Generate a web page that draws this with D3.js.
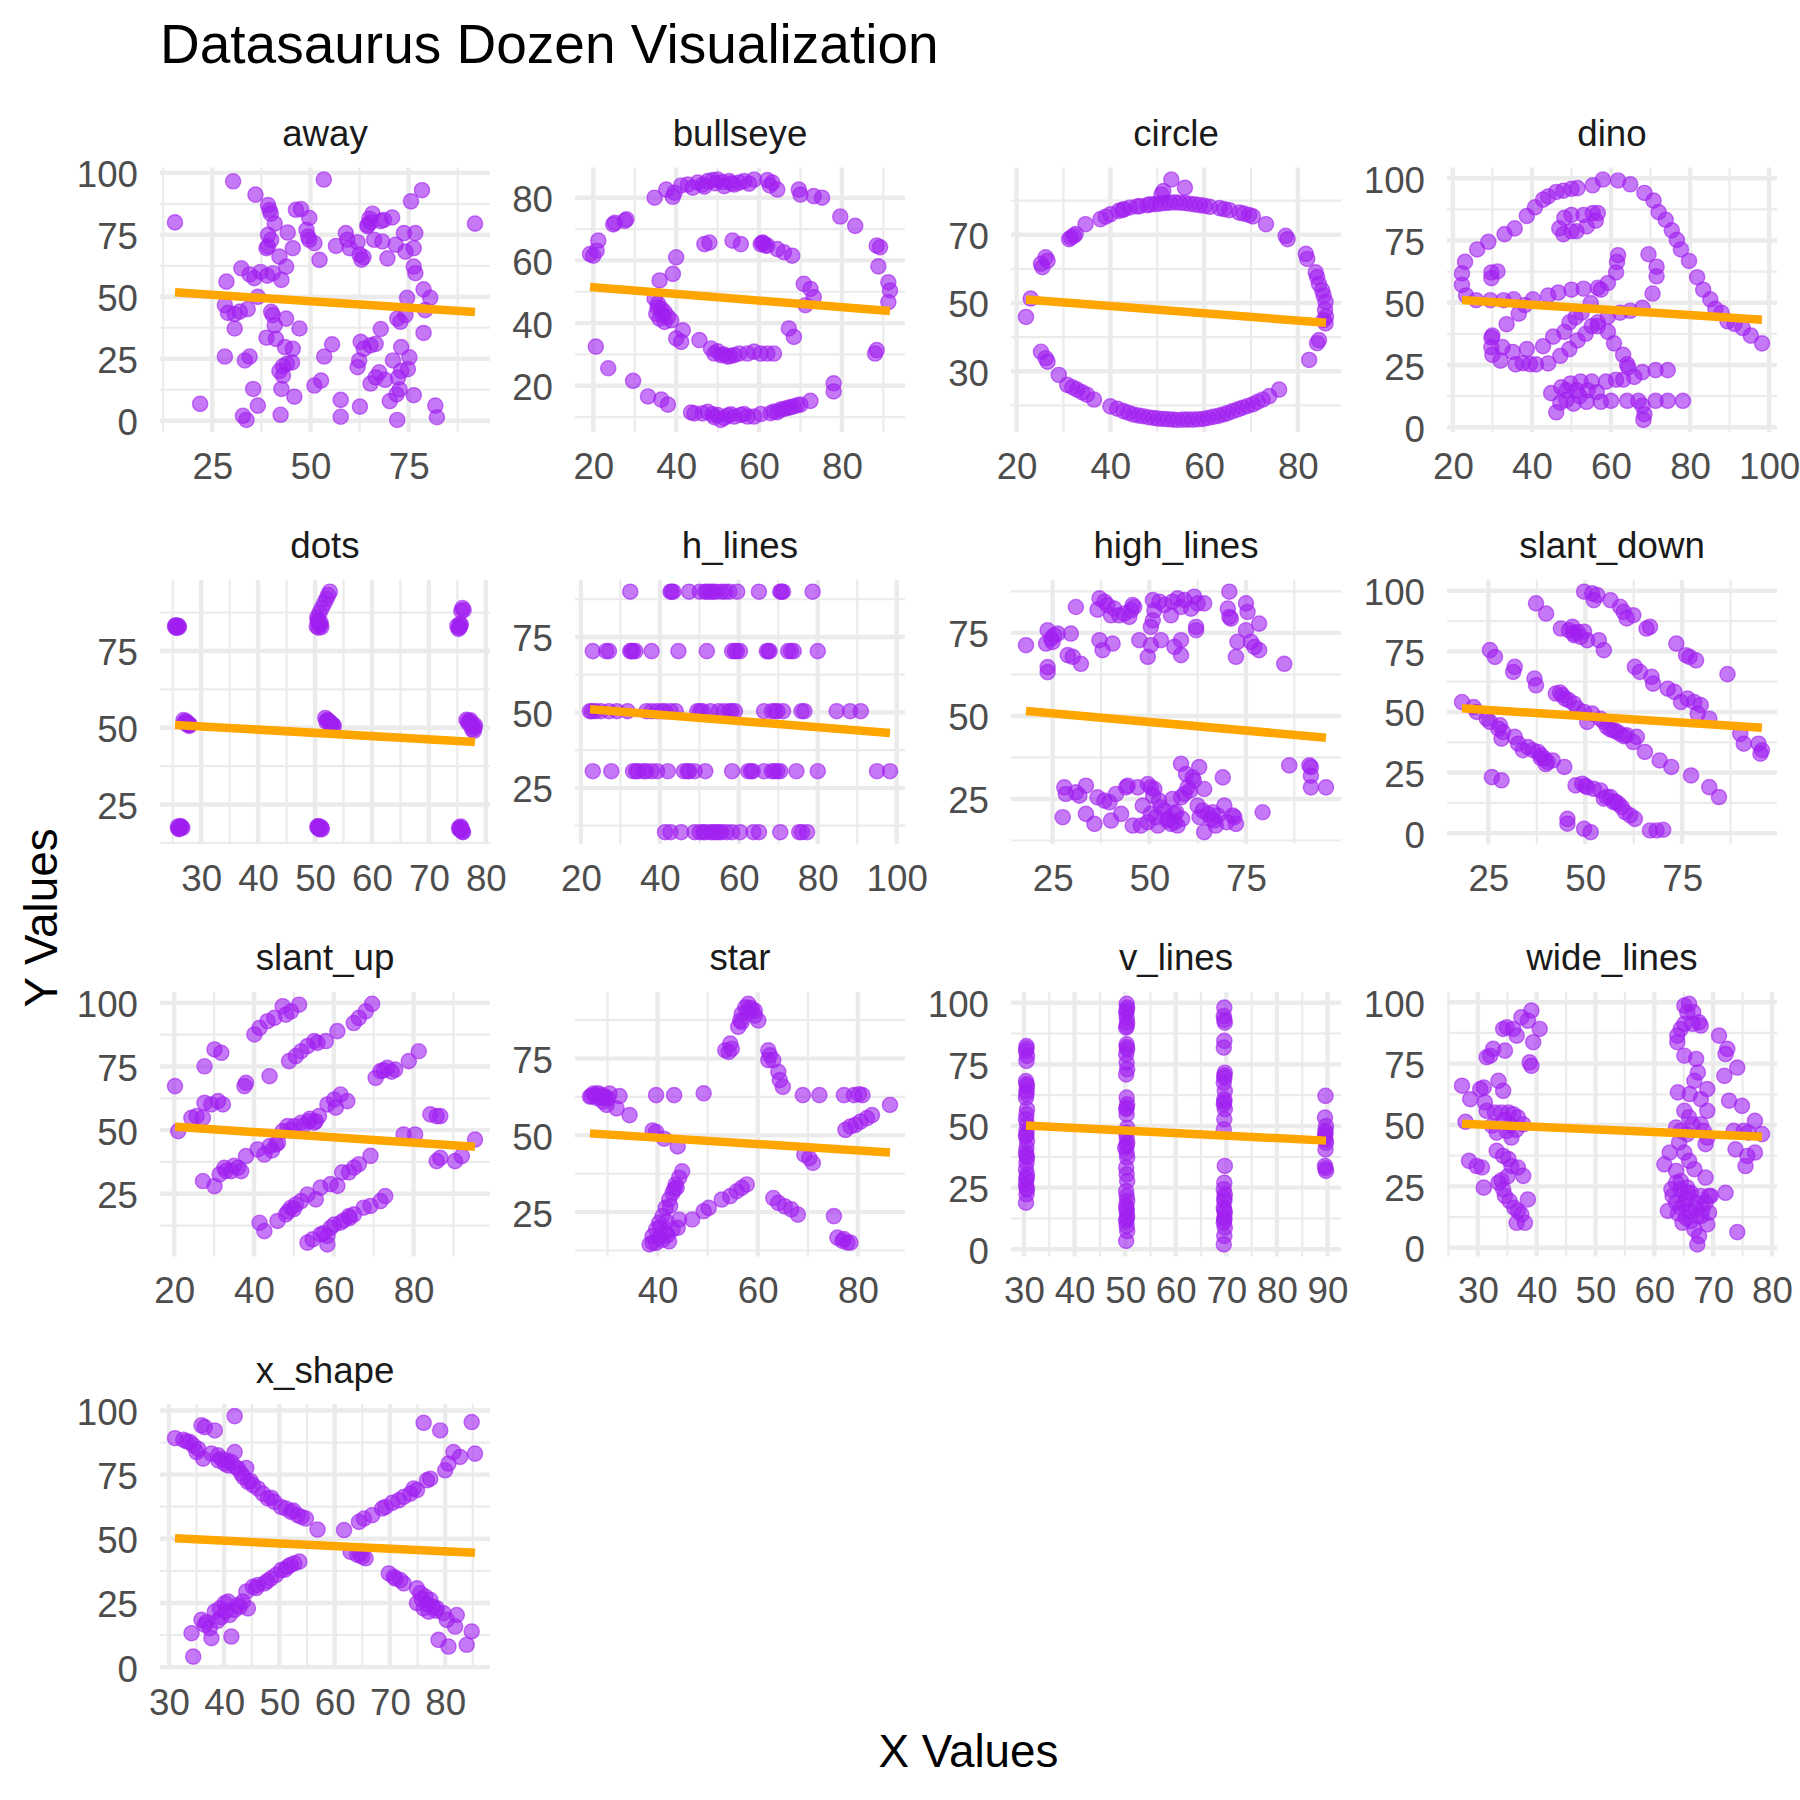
<!DOCTYPE html>
<html><head><meta charset="utf-8">
<script src="https://cdn.jsdelivr.net/npm/d3@7"></script>
<style>body{margin:0;background:#fff}svg{display:block}</style>
</head><body>
<svg id="chart" width="1800" height="1800"></svg>
<script>
// ---------------- DATA ----------------
const panelNames = ["away","bullseye","circle","dino","dots","h_lines","high_lines","slant_down","slant_up","star","v_lines","wide_lines","x_shape"];

const awayPoints = [[15.5,80.0],[30.3,96.6],[53.4,97.3],[78.4,93.0],[75.6,88.5],[91.9,79.5],[36.0,91.2],[39.2,87.0],[39.6,85.0],[39.9,83.5],[46.3,85.1],[47.6,85.4],[49.7,81.8],[40.9,79.5],[44.2,75.9],[39.2,75.0],[40.0,73.0],[39.2,70.3],[38.8,69.6],[45.5,69.6],[49.0,77.0],[49.4,74.3],[49.7,73.0],[51.0,71.6],[52.3,64.9],[42.1,66.2],[43.8,62.2],[42.6,56.8],[32.4,61.5],[34.5,59.0],[35.7,57.5],[37.3,60.0],[39.0,58.5],[40.4,59.5],[28.6,56.1],[36.6,50.0],[28.2,46.6],[29.0,43.5],[30.7,43.0],[32.0,44.0],[34.0,45.0],[30.7,37.2],[40.0,43.9],[40.4,42.6],[43.8,41.2],[40.9,38.5],[47.2,37.2],[38.8,33.5],[41.2,33.0],[43.5,29.7],[45.5,29.0],[28.2,25.9],[33.3,24.3],[34.5,25.9],[53.5,25.9],[55.5,30.8],[44.0,23.0],[45.3,23.5],[43.0,22.0],[42.1,20.0],[43.0,18.2],[42.6,12.8],[45.9,9.7],[35.4,12.8],[36.6,6.1],[21.9,6.8],[32.8,2.0],[33.7,0.3],[42.4,2.4],[51.0,14.2],[52.7,16.2],[57.7,8.4],[57.7,1.6],[62.6,5.7],[56.5,70.5],[59.0,75.7],[59.4,73.0],[60.0,69.6],[62.0,72.0],[62.5,67.0],[63.0,65.0],[63.5,66.0],[64.5,78.5],[65.0,81.5],[65.8,83.5],[65.3,80.0],[64.6,79.0],[67.9,80.5],[68.7,81.0],[70.8,82.0],[66.2,73.0],[68.3,72.3],[69.6,65.5],[71.7,71.0],[73.8,75.7],[76.7,75.7],[74.2,68.2],[76.3,69.6],[76.3,62.2],[76.7,59.5],[78.8,53.0],[80.5,49.6],[74.6,49.6],[79.2,44.6],[74.2,42.6],[72.9,39.9],[72.1,41.2],[78.8,35.4],[67.9,37.0],[66.6,31.0],[65.3,30.4],[62.8,31.8],[63.6,29.0],[62.4,24.3],[62.0,21.6],[67.5,19.5],[66.6,17.5],[65.3,15.0],[69.0,16.5],[71.0,24.3],[73.1,29.7],[75.2,25.6],[74.8,20.8],[73.1,20.1],[72.3,17.4],[72.7,12.6],[71.9,10.6],[70.2,7.9],[76.3,10.3],[81.8,6.1],[82.2,1.4],[72.1,0.3]];

const bullseyePoints = [[34.8,80],[37.6,82.6],[39.6,81.6],[39.2,80.3],[41.2,83.9],[42.8,84.2],[44,83.2],[45.2,84.8],[46.4,84.2],[47.6,85.3],[48.8,85.6],[50,85.8],[51.2,85],[51.6,83.7],[52.8,85.3],[54,84.2],[55.2,84.8],[56.4,85.3],[58.8,85.8],[62,85.6],[63.2,84.8],[64.4,82.6],[69.6,82.6],[70,81],[73.2,80.5],[75.2,80],[79.6,74],[83.2,71],[88.4,64.7],[89.2,64.2],[88.8,58.1],[91.2,53],[91.6,50.4],[91.2,46.7],[88.4,31.4],[88,30.3],[78,20.8],[78,18.2],[72.4,15.2],[70,14],[68.4,13.4],[66.8,12.9],[65.2,12.4],[64.4,11.6],[62.8,11.3],[60.4,11],[58.8,10.2],[57.2,10.2],[55.6,10.7],[54,10.2],[52.4,10.5],[50.8,9.1],[50,10.7],[48.8,10.9],[47.6,11.7],[46.4,11.2],[44.4,11.2],[43.6,11.5],[38,14],[36.4,15.6],[33.2,16.6],[29.6,21.6],[23.6,25.6],[20.6,32.5],[19.2,62],[20,61.5],[20.8,63.1],[21.2,66.3],[24.8,71.5],[25.2,72],[28,73.1],[27.6,72.6],[49.4,84.6],[53.4,84.6],[46.8,83.5],[57.6,84.5],[62.6,83.9],[49.2,10],[51.6,9.8],[53.2,10.9],[56.4,11],[63.6,11.8],[66,12.6],[67.6,13.2],[69.2,13.8],[40,61],[39.2,55.7],[36,53.6],[34.8,47.8],[35.6,46.2],[36.4,44.6],[37.2,43.5],[35.2,43],[36,41.4],[37.2,40.4],[38,42],[38.8,40.9],[40,35.1],[41.2,34],[41.6,37.7],[45.6,34.6],[48.4,31.9],[49.2,30.3],[50.8,29.8],[52.4,29.3],[54,29.8],[55.2,30.3],[57.2,30.3],[58.8,30.9],[60.4,30.3],[62,30.3],[63.6,30.3],[67.2,38.3],[68.4,35.6],[70.8,52.5],[72.4,50.9],[73.2,48.3],[71.2,45.7],[68,61.5],[66,62.6],[64.4,63.6],[62,64.7],[60.8,65.7],[60.4,65.2],[55.6,65.2],[53.6,66.3],[48,65.7],[46.8,65.2],[35.5,45],[36.8,42.5],[53,29.5],[51.5,30],[50,31],[61,65.5],[61.5,64.8]];

const circlePoints = [[53,86.2],[55.9,83.8],[51.3,82.8],[50.9,81.8],[37.9,74.6],[40,76],[41.8,77],[44.2,78],[46.3,78.4],[48.5,78.9],[50.6,79.1],[52.7,79.4],[54.8,79.4],[56.9,79.1],[59.1,78.7],[61.2,78.2],[63.3,77.8],[65.4,77.2],[67.5,76.5],[69.6,75.8],[73.2,73.1],[43,77.5],[45.7,78.3],[47.9,78.7],[49.6,79],[51.7,79.3],[53.8,79.5],[55.9,79.3],[58,78.9],[60.1,78.5],[64.3,77.5],[68.5,76.2],[70.4,75.4],[39,75.3],[42.6,77.3],[34.7,73.1],[32.2,69.7],[31.2,68.7],[31.6,69.2],[32.6,70.2],[26.2,63.4],[25.2,61.5],[25.5,60.5],[26.6,62.4],[23,51.3],[22,45.9],[25.2,35.7],[26.2,33.8],[26.6,32.8],[29,28.9],[30.8,26],[32.9,24.6],[35,23.1],[36.5,21.7],[34,23.8],[31.9,25.3],[40,19.7],[42.8,18.3],[44.9,17.3],[47,16.8],[49.2,16.3],[51.3,16],[53.4,15.8],[55.5,15.8],[57.6,15.8],[59.8,16],[61.9,16.6],[64,17.3],[66.1,18.3],[68.2,19.3],[70.4,20.3],[72.5,21.7],[73.9,22.7],[76,24.6],[41.5,19],[43.9,17.8],[46,17],[48.1,16.5],[50.2,16.1],[52.3,15.9],[54.4,15.7],[56.5,15.8],[58.7,15.9],[60.8,16.3],[63,16.9],[65,17.7],[67.2,18.8],[69.3,19.8],[71.4,21],[82.4,33.3],[84.5,39.1],[84.1,38.2],[85.5,45],[85.9,44],[85.9,50.3],[85.5,52.2],[85.2,53.7],[84.5,55.6],[84.1,57.6],[83.8,59],[82,62.9],[81.7,64.4],[77.8,68.7],[77.4,69.7],[86,46],[85.8,48]];

const dinoX = [55.3846,51.5385,46.1538,42.8205,40.7692,38.7179,35.641,33.0769,28.9744,26.1538,23.0769,22.3077,22.3077,23.3333,25.8974,29.4872,32.8205,35.3846,40.2564,44.1026,46.6667,50,53.0769,56.6667,59.2308,61.2821,61.5385,61.7949,57.4359,54.8718,52.5641,48.2051,49.4872,51.0256,45.3846,42.8205,38.7179,35.1282,32.5641,30,33.5897,36.6667,38.2051,29.7436,29.7436,30,32.0513,35.8974,41.0256,44.1026,47.1795,49.4872,51.5385,53.5897,55.1282,56.6667,59.2308,62.3077,64.8718,67.9487,70.5128,71.5385,71.5385,69.4872,46.9231,48.2051,50,53.0769,55.3846,56.6667,56.1538,53.8462,51.2821,50,47.9487,29.7436,29.7436,31.2821,57.9487,61.7949,64.8718,68.4615,70.7692,72.0513,73.8462,75.3846,76.6667,77.6923,79.7436,81.7949,83.3333,85.1282,86.4103,87.9487,89.4872,93.3333,95.3846,98.2051,56.6667,59.2308,60.7692,63.0769,64.1026,64.359,74.359,71.2821,67.9487,65.8974,63.0769,61.2821,58.7179,55.1282,52.3077,49.7436,47.4359,44.8718,48.7179,51.2821,54.1026,56.4103,52.0513,48.7179,47.1795,46.1538,50.5128,53.8462,57.4359,60,64.1026,66.9231,71.2821,74.359,78.2051,67.9487,68.4615,68.2051,37.6923,39.4872,91.2821,50,47.9487,44.1026];
const dinoY = [97.1795,96.0256,94.4872,91.4103,88.3333,84.8718,79.8718,77.5641,74.4872,71.4103,66.4103,61.7949,57.1795,52.9487,51.0256,51.0256,51.0256,51.4103,51.4103,52.9487,54.1026,55.2564,55.641,56.0256,57.9487,62.1795,66.4103,69.1026,55.2564,49.8718,46.0256,38.3333,42.1795,44.1026,36.4103,32.5641,31.4103,30.2564,32.1795,36.7949,41.4103,45.641,49.1026,36.0256,32.1795,29.1026,26.7949,25.2564,25.2564,25.641,28.718,31.4103,34.8718,37.5641,40.641,42.1795,44.4872,46.0256,46.7949,47.9487,53.718,60.641,64.4872,69.4872,79.8718,84.1026,85.2564,85.2564,86.0256,86.0256,82.9487,80.641,78.718,78.718,77.5641,59.8718,62.1795,62.5641,99.4872,99.1026,97.5641,94.1026,91.0256,86.4103,83.3333,79.1026,75.2564,71.4103,66.7949,60.2564,55.2564,51.4103,47.5641,46.0256,42.5641,39.8718,36.7949,33.718,40.641,38.3333,33.718,29.1026,25.2564,24.1026,22.9487,22.9487,22.1795,20.2564,19.1026,19.1026,18.3333,18.3333,18.3333,17.5641,16.0256,13.718,14.8718,14.8718,14.8718,14.1026,12.5641,11.0256,9.8718,6.0256,9.4872,10.2564,10.2564,10.641,10.641,10.641,10.641,10.641,10.641,8.718,5.2564,2.9487,25.7692,25.3846,41.5385,95.7692,95,92.6923];

const dotsPoints = [[25.4,83.0],[25.6,82.5],[25.9,83.2],[26.1,82.8],[25.5,83.4],[25.8,82.6],[26.0,83.1],[25.7,82.9],[26.9,52.5],[27.2,51.8],[27.5,51.2],[27.8,50.9],[27.3,52.2],[27.7,51.5],[28.0,51.0],[27.1,51.6],[27.9,50.6],[25.9,17.8],[26.2,17.3],[26.5,17.6],[26.1,17.0],[26.4,18.0],[26.7,17.4],[26.0,17.2],[26.3,17.7],[50.3,83.0],[50.6,82.6],[50.9,83.4],[51.1,82.8],[50.5,84.5],[50.4,86.0],[50.8,87.5],[51.2,89.0],[51.6,90.5],[52.0,92.0],[52.3,93.2],[52.6,94.3],[50.7,83.8],[51.0,84.2],[50.5,85.2],[51.8,53.2],[52.1,52.6],[52.5,52.0],[52.8,51.5],[53.1,51.0],[53.3,50.6],[52.3,52.3],[52.7,51.2],[52.0,51.9],[53.0,50.9],[50.4,17.8],[50.7,17.3],[51.0,17.6],[51.2,17.0],[50.6,18.0],[51.1,17.5],[50.8,16.9],[50.5,17.4],[75.0,83.2],[75.3,82.6],[75.6,83.4],[75.2,82.2],[75.5,83.8],[75.4,82.9],[75.7,88.0],[75.9,89.0],[76.1,88.3],[76.6,52.6],[76.9,52.2],[77.2,51.8],[77.5,51.3],[77.8,50.6],[78.0,50.0],[77.6,49.5],[77.9,49.0],[77.0,51.4],[77.3,52.4],[78.1,50.8],[75.3,17.5],[75.5,17.0],[75.8,16.6],[75.6,17.8],[75.9,16.2],[75.4,16.8],[75.7,17.3],[76.0,16.0]];

const hLinesPoints = [[32.5,90],[42.7,90],[43.4,90],[47.4,90],[50.1,90],[51.5,90],[52.8,90],[54.2,90],[55.6,90],[57.6,90],[59.6,90],[65.1,90],[70.5,90],[71.2,90],[78.7,90],[43.0,90],[52.0,90],[53.5,90],[56.5,90],[70.8,90],[23,70.3],[26.4,70.3],[27.1,70.3],[32.5,70.3],[33.2,70.3],[33.8,70.3],[37.9,70.3],[44.7,70.3],[51.9,70.3],[58.3,70.3],[59,70.3],[60.3,70.3],[67.1,70.3],[67.8,70.3],[72.5,70.3],[73.9,70.3],[80,70.3],[32.8,70.3],[59.5,70.3],[67.5,70.3],[73.2,70.3],[22.3,50.4],[23.7,50.4],[25,50.4],[27.1,50.4],[29.1,50.4],[31.8,50.4],[36.6,50.4],[37.9,50.4],[39.3,50.4],[41.3,50.4],[42.7,50.4],[44,50.4],[49.5,50.4],[50.8,50.4],[52.8,50.4],[54.9,50.4],[56.3,50.4],[57.6,50.4],[59,50.4],[66.4,50.4],[68.4,50.4],[69.8,50.4],[71.2,50.4],[75.9,50.4],[76.6,50.4],[84.8,50.4],[88.2,50.4],[90.9,50.4],[22.8,50.4],[40.5,50.4],[50.2,50.4],[58.2,50.4],[69.2,50.4],[23,30.5],[27.7,30.5],[33.2,30.5],[34.5,30.5],[35.9,30.5],[37.9,30.5],[39.3,30.5],[42,30.5],[46.1,30.5],[47.4,30.5],[48.8,30.5],[51.5,30.5],[58.3,30.5],[62.4,30.5],[63.1,30.5],[66.4,30.5],[68.4,30.5],[69.8,30.5],[70.5,30.5],[74.6,30.5],[80,30.5],[95,30.5],[98.3,30.5],[34,30.5],[36.5,30.5],[47,30.5],[63.5,30.5],[69,30.5],[41.3,10.3],[42.7,10.3],[45.4,10.3],[48.8,10.3],[50.1,10.3],[51.5,10.3],[52.8,10.3],[54.2,10.3],[55.6,10.3],[56.9,10.3],[58.3,10.3],[60.3,10.3],[63.7,10.3],[65.1,10.3],[70.5,10.3],[75.3,10.3],[77.3,10.3],[51,10.3],[53.5,10.3],[55,10.3],[76,10.3]];

const highLinesPoints = [[18.1,71.3],[23.7,75.8],[23.3,71.8],[24.6,73.3],[25.4,74.3],[26.3,74.8],[25,72.3],[23.7,64.7],[23.7,63.2],[29.7,74.8],[28.9,68.3],[30.2,67.8],[32.3,65.7],[31,82.8],[37.1,85.4],[36.6,82],[38.4,84.4],[39.2,83.4],[40.9,82.3],[40.1,80.3],[42.2,80.3],[43.5,80.8],[45.3,81.8],[45.7,83.4],[46.1,82.8],[44.8,79.8],[37.1,72.8],[37.9,69.8],[40.5,71.8],[47.4,72.8],[49.6,67.8],[50.4,71.3],[53,72.8],[50.4,76.8],[50.9,78.8],[51.3,81.8],[50.9,84.9],[52.6,84.4],[53.9,83.4],[55.6,80.3],[56,84.4],[57.3,85.4],[58.2,82.8],[59.1,84.9],[60.8,82.3],[61.6,85.9],[62.5,83.9],[64.2,83.9],[62.1,76.8],[62.1,75.8],[56.5,70.8],[58.2,72.8],[58.2,68.3],[70.7,87.4],[70.3,82.3],[70.7,79.8],[71.1,79.3],[75,83.9],[75.4,81.3],[78.4,77.8],[75,75.8],[72.8,72.3],[76.3,72.3],[77.2,70.8],[78.4,69.8],[72.4,67.8],[84.9,65.7],[27.6,19.5],[28,28.5],[28.4,26.5],[31,27],[31.9,26],[33.6,29],[33.6,20.5],[35.8,17.5],[36.6,25.5],[38.4,24.5],[39.7,24],[40.1,18.5],[42.7,20.5],[41.4,26.5],[44,28.5],[44.4,29],[45.7,17],[47,28.5],[47.8,17],[49.6,29.5],[50.4,28.5],[51.3,28],[48.3,23],[49.6,18],[50.4,20.5],[51.7,19.5],[52.2,17],[53.9,21.5],[54.7,18.5],[55.6,17.5],[56,25],[56.5,20.5],[57.3,17],[58.2,25.5],[59.1,26.5],[59.9,28.5],[58.2,35.6],[59.5,32.5],[61.2,31.5],[62.9,34.6],[64.2,28],[62.5,23],[63.8,21.5],[65.1,20.5],[66.4,21],[66.8,18.5],[67.2,17],[67.7,20],[69,31.5],[69.4,23],[71.6,20],[72.4,17.5],[72,19.5],[64.2,15],[79.3,21],[86.2,35.1],[91.4,35.1],[91.8,34.6],[91.8,32],[91.8,28.5],[95.7,28.5],[51,26],[52.5,24.5],[53,22.5],[55,19],[57,21],[60.5,27.5],[61.5,30.5],[56.5,18],[58.5,19],[63,19.5],[66,19],[70,18]];

const slantDownPoints = [[18.2,54.1],[21.2,52],[22,50],[24.6,47.2],[25.4,45.9],[28,44.5],[28.8,41.7],[28.4,39],[27.6,43.1],[31.8,39.7],[32.7,36.9],[33.9,34.2],[35.2,35.5],[36.5,34.2],[37.8,33.5],[38.6,32.1],[39.5,30.7],[40.3,29.3],[41.6,30],[44.6,27.3],[25.4,75.5],[26.7,72.7],[31.8,68.6],[31.4,66.5],[36.9,63.8],[37.3,61],[42.4,57.6],[44.1,56.9],[45.8,54.8],[47.1,53.4],[48,51.4],[49.7,50],[50.5,45.9],[51.8,49.3],[53.9,47.2],[54.8,45.9],[55.6,43.8],[57.3,42.4],[59,41],[60.7,40.4],[62.4,37.6],[63.3,39.7],[65.4,33.5],[69.2,30],[72.2,27.3],[77.3,23.8],[82,19],[84.5,14.9],[37.3,94.8],[39.9,90.6],[43.7,84.4],[45.8,83.7],[46.7,85.1],[47.1,81.7],[48.8,81],[49.7,83.1],[50.5,79.6],[53.5,79.6],[54.8,75.5],[49.7,99.6],[51.8,98.9],[53.1,98.2],[52.2,96.1],[56.5,96.1],[59,93.4],[59.9,91.3],[62.4,89.9],[60.7,88.6],[66.7,85.1],[65.8,84.4],[73.5,78.2],[76,73.4],[78.6,71.3],[76.9,72.7],[86.7,65.6],[62.8,68.6],[64.1,66.5],[67.1,64.5],[67.5,61.7],[71.3,59.6],[73,58.3],[74.7,54.1],[76.4,55.5],[78.1,54.1],[79.8,52.8],[79,49.3],[82,47.2],[90,41],[90.9,36.9],[94.7,36.9],[95.6,34.2],[95.2,32.8],[25.9,23.1],[28.4,21.8],[47.5,19.7],[49.2,20.4],[50.5,19],[52.2,18.3],[53.9,17.6],[54.8,14.2],[56.5,14.9],[57.3,12.8],[58.6,12.1],[59.4,10.7],[60.3,8.7],[61.6,7.3],[62.8,5.9],[45.4,5.9],[45.4,3.9],[49.7,1.8],[51.4,0.4],[66.7,1.1],[68.4,1.1],[70.1,1.4],[43.5,58],[44.8,55.5],[56.5,42.8],[58,42],[60,40],[38.5,31],[39.8,28.5],[47,82.5],[48,83],[50,19.5],[55.5,15],[57.8,13]];

const slantUpPoints = [[20.2,67.3],[21,49.6],[24.3,54.8],[25.6,55.5],[27.2,54.8],[27.6,75.1],[30.1,81.7],[31.8,80.4],[27.6,60.7],[29.3,60.1],[31,61.4],[32.2,60.1],[37.6,67.3],[38,68.6],[27.2,30],[30.1,28],[31.4,32.6],[32.6,35.2],[34.3,33.9],[36,35.2],[36.8,33.9],[38,39.8],[40.9,42.4],[42.6,40.4],[43.9,43.7],[45.5,44.4],[47.2,49.6],[48.4,51.6],[50.1,51.6],[51.8,52.9],[53.8,53.5],[55.5,53.5],[56.3,55.5],[55.1,52.9],[58.4,60.1],[60.1,62],[61.7,64],[63.4,61.4],[60.5,58.8],[43.9,71.2],[40.1,87.6],[41.4,90.2],[43.4,92.8],[45.1,94.1],[47.2,98.7],[49.3,96.7],[51.3,99.3],[48,95.4],[48.8,77.1],[50.5,79.1],[51.8,81],[53.4,83],[55.1,85],[55.9,84.3],[58,85],[60.9,88.9],[65,92.1],[66.3,94.1],[68,96.7],[69.6,99.6],[70.5,70.5],[71.7,73.2],[73.4,74.5],[75.4,73.8],[78.8,77.1],[81.3,81],[84.2,56.2],[85.8,55.5],[86.7,55.5],[77.5,48.3],[80.4,48.3],[85.8,37.8],[86.7,39.1],[90.4,37.8],[92.1,39.8],[95.4,46.3],[41.4,13.6],[42.6,10.3],[45.9,14.3],[48,16.9],[49.3,19.5],[50.5,20.8],[51.8,22.1],[53.4,24.7],[55.5,22.8],[56.7,27.4],[59.2,28.8],[60.9,28.1],[62.1,33.4],[63.8,33.4],[65.1,35.3],[66.3,36.6],[69.2,39.9],[53.4,5.8],[54.7,7.1],[56.7,9],[58.4,8.4],[59.2,11.6],[60.1,12.9],[61.7,13.6],[63.8,16.2],[65.1,16.9],[67.5,19.5],[69.2,20.2],[71.7,22.1],[72.9,24.1],[58.4,5.1],[33,34],[35,36],[44.5,42],[46,45],[49,50],[52.5,52],[54,54.5],[57.5,9.5],[62.5,14.5],[64,15.5],[48.5,18],[50,19],[72.5,73.5],[74.5,73]];

const starPoints = [[26.8,62.8],[27.5,63.1],[28.1,63.7],[28.8,63.1],[29.5,62.6],[30.1,62],[29.1,61],[29.8,59.9],[31.8,58.8],[32.4,62.8],[34.4,56.6],[26.5,62.6],[27.2,63.6],[28.5,62.6],[30.4,63.6],[39.7,63.1],[43.3,63.1],[49.2,63.7],[39,51.6],[39.7,51.1],[41.3,48.9],[44,46.4],[44.9,38.3],[44.3,36.2],[43.6,34],[43,31.3],[42.3,29.1],[41.6,26.4],[41,23.7],[40.3,21.5],[39.7,19.4],[39,17.2],[38.4,14.5],[39,15.1],[40.3,16.7],[41.6,18.3],[43,19.4],[44,19.9],[44.3,22.6],[43.3,32.4],[41,16],[42.3,15.5],[39.7,15],[46.9,22.6],[49.2,25.3],[50.2,26.4],[52.8,29.1],[54.5,30.2],[55.8,31.8],[56.8,32.9],[57.8,34],[63.1,29.6],[64.1,28],[65.4,26.9],[66.7,25.9],[68,24.2],[75.2,23.7],[75.9,16.7],[76.9,15.6],[77.9,15.1],[78.5,15.1],[77.2,16.2],[69.3,43.7],[70.3,42.6],[71,41],[77.5,51.8],[78.5,52.9],[79.5,53.4],[80.5,54.5],[81.8,55.6],[82.8,56.6],[86.4,59.9],[69,63.1],[72.3,63.1],[77.2,63.1],[79.2,63.1],[80.2,63.4],[80.9,63.1],[62.1,77.7],[62.4,76.1],[62.1,74.5],[63.1,74.5],[64.1,70.7],[64.4,68],[65,65.8],[53.5,77.7],[54.5,79.9],[54.8,78.2],[54.2,77.2],[56.1,85.3],[56.5,87.4],[56.8,89.6],[57.5,91.7],[58.1,92.8],[58.8,91.2],[59.4,89],[60.1,87.4],[56.8,86.9],[59.4,90.6],[42.5,27],[43.8,33],[40.5,20],[41.8,22],[42,17.5],[58.4,91.5],[57.8,90],[27.8,62.2],[29.2,62.2]];

const vLinesPoints = [[30.5,82.4],[30.4,80.4],[30.6,78.4],[30.5,76.4],[30.4,68.2],[30.6,66.2],[30.5,64.2],[30.4,61.5],[30.6,56.8],[30.5,54.7],[30.4,52.7],[30.6,50.7],[30.5,48],[30.4,45.9],[30.6,43.9],[30.5,41.2],[30.4,39.2],[30.6,37.2],[30.5,35.1],[30.4,32.4],[30.6,30.4],[30.5,28.4],[30.4,26.4],[30.6,24.3],[30.5,22.3],[30.4,18.9],[30.5,81.5],[30.5,67],[30.5,63],[30.5,46.5],[30.5,38],[30.5,29],[30.5,25],[50.3,99.5],[50.4,98],[50.2,96],[50.3,94],[50.4,91.9],[50.2,89.9],[50.3,83.1],[50.4,81.1],[50.2,79.1],[50.3,75.7],[50.4,73],[50.2,70.9],[50.3,61.5],[50.4,58.8],[50.2,56.8],[50.3,54.7],[50.4,49.3],[50.2,47.3],[50.3,45.3],[50.4,43.2],[50.0,41.2],[50.3,39.2],[50.4,37.2],[50.2,33.1],[50.3,30.4],[50.4,27.7],[50.2,23.6],[50.3,21.6],[50.4,19.6],[50.2,17.6],[50.3,15.5],[50.4,13.5],[50.2,11.5],[50.3,9.5],[50.4,7.4],[50.2,3.4],[50.3,97],[50.3,90.5],[50.3,82],[50.3,57.5],[50.3,42],[50.3,16.5],[50.3,12.5],[69.6,98],[69.5,94.6],[69.7,91.9],[69.6,84.5],[69.5,81.8],[69.7,71.6],[69.6,69.6],[69.5,67.6],[69.7,64.2],[69.6,60.8],[69.5,58.8],[69.7,56.8],[69.6,52.7],[69.5,48.6],[69.7,33.8],[69.6,27],[69.5,24.3],[69.7,22.3],[69.6,19.6],[69.5,16.9],[69.7,14.9],[69.6,12.8],[69.5,10.8],[69.7,8.8],[69.6,5.4],[69.5,2],[69.6,93],[69.6,70.5],[69.6,59.8],[69.6,20.8],[69.6,15.8],[69.6,11.8],[89.6,62.2],[89.5,53.4],[89.7,50],[89.6,48],[89.5,45.9],[89.7,43.2],[89.6,40.5],[89.5,33.8],[89.7,31.8],[89.6,47],[89.6,44.5],[89.6,32.8]];

const wideLinesPoints = [[27.3,66],[28.7,60.5],[27.9,51.3],[28.5,35.4],[29.8,33.3],[30.7,32.7],[31,24.5],[30.4,64.6],[31,65.3],[31.2,59.2],[31.5,55.8],[31.5,77.6],[32.1,78.2],[32.6,81],[34.6,80.3],[34.3,89.1],[34.9,89.8],[36,89.1],[36.6,86.4],[37.4,93.9],[38.5,92.5],[39.1,96.6],[39.4,83.7],[40.5,89.1],[38.8,75.5],[39.1,74.1],[33.5,68],[34.3,63.9],[32.9,55.1],[34,55.1],[35.2,55.1],[36,54.4],[36.8,53.1],[37.7,50.3],[32.4,49.7],[33.2,46.9],[34.9,47.6],[35.7,44.9],[33.2,39.5],[34.3,37.4],[35.2,36.1],[35.7,33.3],[36.8,32.7],[37.7,29.3],[33.5,26.5],[34.3,23.8],[34.6,21.1],[35.4,19],[36.2,16.3],[36.8,15],[37.4,13.6],[36.6,10.2],[38,10.2],[38.5,19.7],[34,27.5],[35,29],[35.5,50],[34.5,52],[36.5,48],[65.1,98.6],[65.9,99.3],[65.6,95.9],[64.5,89.1],[63.9,86.4],[65.1,91.2],[66.5,91.2],[67.6,91.8],[67.9,90.5],[63.9,83.7],[65.1,78.2],[67.1,76.9],[67.4,71.4],[66.8,68],[66,62.6],[64,63.3],[71,86.4],[72.4,81],[72.1,78.9],[71.9,70],[74.1,73.4],[72.7,59.9],[74.9,57.8],[69,64.6],[67.9,60.5],[69,55.8],[77.1,51.7],[78.3,46.3],[73.5,47.6],[75.2,47.6],[76,46.9],[73.8,40.1],[75.8,37.4],[77.1,38.8],[75.5,33.3],[74.1,6.4],[63.7,49],[64.5,47.6],[65.1,55.8],[65.9,53.1],[66.5,50.3],[65.6,46.3],[67.9,50.3],[68.4,47.6],[69,44.9],[68.7,42.2],[64.2,42.9],[65.1,38.8],[65.9,35.4],[66.8,32],[62.6,38.8],[61.7,34],[63.7,31.3],[64.5,27.2],[65.6,24.5],[68.7,28.6],[69.6,21.1],[72.1,22.4],[63.1,21.1],[63.7,18.4],[64.5,16.3],[65.4,19.7],[66.2,22.4],[67.1,18.4],[67.9,21.1],[68.7,18.4],[69.3,14.3],[68.2,15.6],[67.3,12.9],[66.2,10.9],[65.4,12.2],[64.8,10.2],[66.8,7.5],[67.6,4.8],[67.3,1.4],[69,9.5],[62.3,15],[62.9,23.8],[63.7,26.5],[64.5,23.8],[65.7,22.4],[69.3,21.1],[66,15],[67,16],[64,14],[65,17.5],[68,13],[66.6,96]];

const xShapePoints = [[31.1,89.2],[32.6,88.6],[33.8,87.7],[34.4,86.4],[35,83.8],[36.2,81.2],[35.9,94.2],[36.5,93.5],[38.3,92.2],[41.9,97.8],[37.7,83.2],[38.9,82.5],[39.5,81.2],[40.1,79.3],[40.7,78.6],[41.3,79.9],[41.9,83.8],[42.5,77.3],[43.1,75.4],[44,77.6],[44.3,72.2],[45.2,70.9],[46.1,69.6],[47,67.6],[47.9,65.7],[49.1,64.4],[50.3,62.4],[51.2,61.8],[52.1,60.5],[53.3,59.2],[54.8,57.9],[56.9,53.6],[34.1,13.2],[34.4,4.1],[35.9,18.4],[36.5,16.5],[37.4,15.2],[37.7,11.3],[38.3,21.6],[39.2,22.9],[40.1,24.9],[40.7,25.5],[41.3,11.9],[41,20.3],[41.9,22.3],[42.5,24.2],[43.4,25.5],[44.3,22.9],[44,29.4],[45.2,31.3],[46.1,32],[47.3,32.6],[48.5,34.6],[49.4,35.9],[50.3,37.8],[51.5,39.1],[52.7,40.4],[53.6,41.1],[61.7,53.4],[64.4,56.6],[65.3,57.9],[66.8,59.2],[68.6,61.8],[69.2,62.4],[71.6,65],[72.5,66.3],[73.7,67.6],[74.3,69.6],[76.7,72.8],[77.3,73.4],[80,76.7],[80.6,79.3],[81.5,83.8],[82.7,81.9],[85.4,83.2],[76.1,95.2],[79.1,92.2],[84.8,95.5],[62.9,44.9],[64.1,43.7],[65.6,42.4],[69.8,36.5],[70.7,35.2],[71.9,33.9],[72.5,32.6],[74.9,30.7],[75.5,28.8],[76.4,27.5],[77.3,26.2],[74.9,24.9],[76.1,22.9],[77,21.6],[78.5,22.9],[79.7,21],[80.3,18.4],[81.8,15.8],[82.1,20.3],[78.8,10.6],[80.6,8],[83.9,8.7],[84.8,13.9],[39,80.5],[40.5,80.5],[42,78],[43.5,74],[44.8,72.5],[48.5,66],[52.5,61],[54,58.5],[33.2,88],[35.3,85],[36.8,17.5],[38.8,18],[39.5,19.5],[40.3,21.8],[42.8,23.5],[45.8,30.8],[47.8,33.5],[51,38],[52,39.8],[65,43],[64.6,44],[71,34.5],[75.8,26.5],[76.8,24.5],[77.8,23.5],[78.3,22],[70.4,64],[74.9,69]];

// fitted line (lm) of each panel (same order as panelNames)
const fitIntercept = [53.4,53.5,53.4,53.4,53.6,53.4,53.4,53.4,53.4,53.4,53.4,53.4,53.4];
const fitSlope = [-0.104,-0.105,-0.107,-0.104,-0.105,-0.104,-0.104,-0.104,-0.104,-0.104,-0.104,-0.104,-0.104];

// tick labels (breaks) per panel, same order as panelNames
const xTickValues = [[25,50,75],[20,40,60,80],[20,40,60,80],[20,40,60,80,100],[30,40,50,60,70,80],[20,40,60,80,100],[25,50,75],[25,50,75],[20,40,60,80],[40,60,80],[30,40,50,60,70,80,90],[30,40,50,60,70,80],[30,40,50,60,70,80]];
const yTickValues = [[0,25,50,75,100],[20,40,60,80],[30,50,70],[0,25,50,75,100],[25,50,75],[25,50,75],[25,50,75],[0,25,50,75,100],[25,50,75,100],[25,50,75],[0,25,50,75,100],[0,25,50,75,100],[0,25,50,75,100]];

const chartTitle = "Datasaurus Dozen Visualization";
const xAxisTitle = "X Values";
const yAxisTitle = "Y Values";

// ---------------- DRAWING ----------------
const panelPoints = [awayPoints, bullseyePoints, circlePoints, d3.zip(dinoX, dinoY), dotsPoints, hLinesPoints, highLinesPoints, slantDownPoints, slantUpPoints, starPoints, vLinesPoints, wideLinesPoints, xShapePoints];

const FONT = "'Liberation Sans', Arial, Helvetica, sans-serif";
const colLeft = [160, 575, 1011, 1447];
const rowTop = [167.5, 579.7, 991.9, 1404.1];
const panelW = 330, panelH = 264.5;
const POINT = "#A020F0", LINE = "#FFA500", GRID = "#EBEBEB";

const svg = d3.select("#chart");
svg.append("rect").attr("width", 1800).attr("height", 1800).attr("fill", "#fff");

function paddedDomain(vals) {
  const [lo, hi] = d3.extent(vals);
  const p = (hi - lo) * 0.05;
  return [lo - p, hi + p];
}
function minorBreaks(major, dom) {
  const b = major.slice();
  if (b.length < 2) return [];
  const bd = b[1] - b[0];
  if (dom[0] < b[0]) b.unshift(b[0] - bd);
  if (dom[1] > b[b.length - 1]) b.push(b[b.length - 1] + bd);
  const out = [];
  for (let i = 0; i < b.length - 1; i++) {
    const m = (b[i] + b[i + 1]) / 2;
    if (m >= dom[0] && m <= dom[1]) out.push(m);
  }
  return out;
}

panelNames.forEach((name, i) => {
  const col = i % 4, row = Math.floor(i / 4);
  const pts = panelPoints[i];
  const xs = pts.map(d => d[0]), ys = pts.map(d => d[1]);
  const xDom = paddedDomain(xs), yDom = paddedDomain(ys);
  const x = d3.scaleLinear().domain(xDom).range([0, panelW]);
  const y = d3.scaleLinear().domain(yDom).range([panelH, 0]);
  const xMaj = xTickValues[i].filter(v => v >= xDom[0] && v <= xDom[1]);
  const yMaj = yTickValues[i].filter(v => v >= yDom[0] && v <= yDom[1]);
  const xMin = minorBreaks(xMaj, xDom), yMin = minorBreaks(yMaj, yDom);

  const g = svg.append("g").attr("transform", `translate(${colLeft[col]},${rowTop[row]})`);

  // grid
  const grid = g.append("g");
  grid.selectAll(".xminor").data(xMin).join("line")
    .attr("x1", d => x(d)).attr("x2", d => x(d)).attr("y1", 0).attr("y2", panelH)
    .attr("stroke", GRID).attr("stroke-width", 2.2);
  grid.selectAll(".yminor").data(yMin).join("line")
    .attr("y1", d => y(d)).attr("y2", d => y(d)).attr("x1", 0).attr("x2", panelW)
    .attr("stroke", GRID).attr("stroke-width", 2.2);
  grid.selectAll(".xmajor").data(xMaj).join("line")
    .attr("x1", d => x(d)).attr("x2", d => x(d)).attr("y1", 0).attr("y2", panelH)
    .attr("stroke", GRID).attr("stroke-width", 4.4);
  grid.selectAll(".ymajor").data(yMaj).join("line")
    .attr("y1", d => y(d)).attr("y2", d => y(d)).attr("x1", 0).attr("x2", panelW)
    .attr("stroke", GRID).attr("stroke-width", 4.4);

  // points
  g.append("g").selectAll("circle").data(pts).join("circle")
    .attr("cx", d => x(d[0])).attr("cy", d => y(d[1])).attr("r", 7.6)
    .attr("fill", POINT).attr("fill-opacity", 0.6)
    .attr("stroke", POINT).attr("stroke-opacity", 0.6).attr("stroke-width", 1.4);

  // linear fit over the panel's x range
  const xr = d3.extent(xs);
  const fit = xr.map(v => [v, fitIntercept[i] + fitSlope[i] * v]);
  g.append("path").datum(fit)
    .attr("d", d3.line().x(d => x(d[0])).y(d => y(d[1])))
    .attr("fill", "none").attr("stroke", LINE).attr("stroke-width", 8.5);

  // axes
  const ax = g.append("g").attr("transform", `translate(0,${panelH})`)
    .call(d3.axisBottom(x).tickValues(xMaj).tickSize(0).tickPadding(20.5).tickFormat(d3.format("d")));
  ax.select(".domain").remove();
  ax.selectAll("text").attr("font-family", FONT).attr("font-size", 36.7).attr("fill", "#4D4D4D");
  ax.attr("font-family", null).attr("font-size", null);

  const ay = g.append("g")
    .call(d3.axisLeft(y).tickValues(yMaj).tickSize(0).tickPadding(22).tickFormat(d3.format("d")));
  ay.select(".domain").remove();
  ay.selectAll("text").attr("font-family", FONT).attr("font-size", 36.7).attr("fill", "#4D4D4D").attr("dy", "0.38em");
  ay.attr("font-family", null).attr("font-size", null);

  // strip label
  g.append("text").attr("x", panelW / 2).attr("y", -21.5).attr("text-anchor", "middle")
    .attr("font-family", FONT).attr("font-size", 36.7).attr("fill", "#1A1A1A").text(name);
});

svg.append("text").attr("x", 160).attr("y", 63)
  .attr("font-family", FONT).attr("font-size", 55).attr("fill", "#000").text(chartTitle);
svg.append("text").attr("x", 968.5).attr("y", 1767).attr("text-anchor", "middle")
  .attr("font-family", FONT).attr("font-size", 45.8).attr("fill", "#000").text(xAxisTitle);
svg.append("text").attr("transform", "translate(57,918) rotate(-90)").attr("text-anchor", "middle")
  .attr("font-family", FONT).attr("font-size", 45.8).attr("fill", "#000").text(yAxisTitle);
</script>
</body></html>
